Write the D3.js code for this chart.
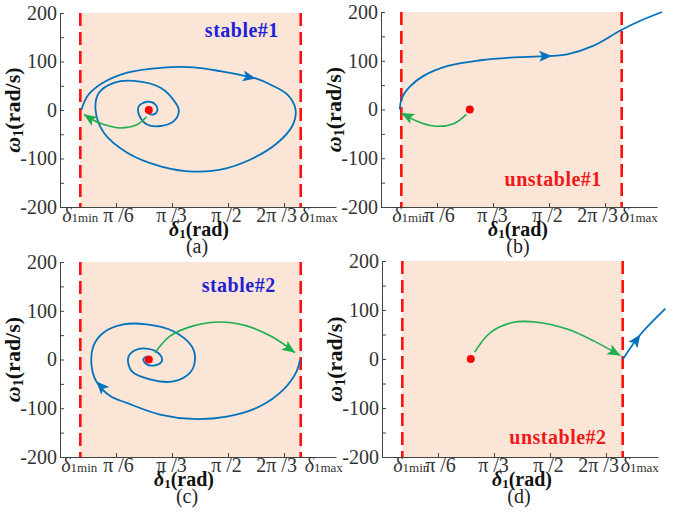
<!DOCTYPE html>
<html>
<head>
<meta charset="utf-8">
<script src="https://cdn.jsdelivr.net/npm/d3@7"></script>
<style>
body { margin: 0; background: #fff; }
text { font-family: "Liberation Serif", "Times New Roman", serif; }
</style>
</head>
<body>
<svg id="fig" width="673" height="512"></svg>
<script>
// values: delta in rad, omega in rad/s
var deltaMin = 0.19, deltaMax = 2.25, delta0 = 0.83;
var yTicks = [-200, -150, -100, -50, 0, 50, 100, 150, 200];
var xTicks = [Math.PI / 6, Math.PI / 3, Math.PI / 2, 2 * Math.PI / 3];
var xTickLabels = ["π /6", "π /3", "π /2", "2π /3"];
var captions = ["(a)", "(b)", "(c)", "(d)"];
var stateLabels = ["stable#1", "unstable#1", "stable#2", "unstable#2"];

var blueA = [[0.20,0],[0.254,28],[0.379,53],[0.628,77],[0.940,87],[1.248,88],[1.501,80],[1.83,65],[1.96,53],
  [2.124,32],[2.202,1],[2.171,-33],[2.031,-68],[1.781,-102],[1.501,-123],[1.248,-127],[0.940,-116],[0.628,-88],
  [0.410,-47],[0.332,1],[0.363,35],[0.503,56],[0.690,60],[0.940,46],[1.080,15],[1.111,-2],[1.064,-23],[0.940,-33],
  [0.815,-30],[0.737,-9],[0.737,8],[0.815,17],[0.893,11],[0.909,-2],[0.877,-9],[0.830,-7],[0.809,1],[0.84,0]];
var greenA = [[0.809,-14],[0.722,-30],[0.566,-37],[0.410,-30],[0.285,-18],[0.223,-9]];

var blueB = [[0.175,0],[0.196,24],[0.274,48],[0.398,69],[0.617,89],[0.928,101],[1.240,107],[1.60,110],[1.739,113],
  [1.988,131],[2.237,162],[2.424,182],[2.627,200]];
var greenB = [[0.798,-10],[0.679,-29],[0.492,-34],[0.337,-24],[0.19,-7]];

var blueC = [[2.244,0],[2.213,-24],[2.088,-62],[1.870,-96],[1.559,-117],[1.246,-122],[0.935,-113],[0.623,-89],
  [0.47,-75],[0.34,-45],[0.296,-14],[0.311,27],[0.405,55],[0.592,72],[0.810,72],[1.059,58],[1.231,27],[1.262,0],
  [1.216,-27],[1.059,-45],[0.841,-41],[0.670,-24],[0.638,4],[0.701,19],[0.825,22],[0.935,10],[0.951,-4],
  [0.888,-12],[0.810,-10],[0.779,0],[0.816,6],[0.837,0]];
var greenC = [[0.888,14],[1.028,48],[1.246,69],[1.496,77],[1.746,69],[1.995,45],[2.197,14]];

var blueD = [[2.253,0],[2.415,50],[2.649,103]];
var greenD = [[0.866,14],[1.013,54],[1.230,75],[1.449,75],[1.730,61],[1.978,37],[2.228,7]];

var blues = [blueA, blueB, blueC, blueD];
var greens = [greenA, greenB, greenC, greenD];
var blueArrowAt = [7, 7, 9, 1];
var statePos = [[1.70,150],[1.61,-157],[1.67,139],[1.645,-173]];

// layout of the four panels (pixels)
var panels = [
  {ox: 60,  top: 13,  bottom: 207, titleDx: 139, capDx: 137, minDx: 0,  maxDx: -1, stateColor: "#1f1fd6"},
  {ox: 381, top: 12,  bottom: 207, titleDx: 137, capDx: 137, minDx: 9,  maxDx: -2, stateColor: "#f01818"},
  {ox: 60,  top: 262, bottom: 457, titleDx: 124, capDx: 127, minDx: -1, maxDx: 4,  stateColor: "#1f1fd6"},
  {ox: 382, top: 261, bottom: 457, titleDx: 140, capDx: 137, minDx: 9,  maxDx: -2, stateColor: "#f01818"}
];
var tickLabelDx = [2, -1, -2, -8];

var axisColor = "#444", blueColor = "#0072bd", greenColor = "#1fae4f";
var svg = d3.select("#fig");

function drawArrow(g, p, q, color) {
  var a = Math.atan2(q[1] - p[1], q[0] - p[0]) * 180 / Math.PI;
  g.append("path")
    .attr("d", "M0,0L-13,-5.5L-10,0L-13,5.5Z")
    .attr("fill", color)
    .attr("transform", "translate(" + q[0] + "," + q[1] + ") rotate(" + a + ")");
}

panels.forEach(function(p, k) {
  var x = d3.scaleLinear().domain([0, 2.58]).range([p.ox, p.ox + 276]);
  var y = d3.scaleLinear().domain([-200, 200]).range([p.bottom, p.top]);
  var g = svg.append("g");

  // stable region
  g.append("rect")
    .attr("x", x(deltaMin)).attr("y", y(200))
    .attr("width", x(deltaMax) - x(deltaMin)).attr("height", y(-200) - y(200))
    .attr("fill", "#fbe5d6");

  // axes
  var yAxis = g.append("g").attr("transform", "translate(" + p.ox + ",0)")
    .call(d3.axisLeft(y).tickValues(yTicks).tickSizeInner(-4).tickSizeOuter(0).tickPadding(3)
      .tickFormat(function(d) { return d % 100 === 0 ? String(d) : ""; }));
  var xAxis = g.append("g").attr("transform", "translate(0," + p.bottom + ")")
    .call(d3.axisBottom(x).tickValues(xTicks).tickSizeInner(-4).tickSizeOuter(0).tickPadding(1)
      .tickFormat(function(d, i) { return xTickLabels[i]; }));
  xAxis.selectAll(".tick text").attr("dx", function(d, i) { return tickLabelDx[i]; });
  [yAxis, xAxis].forEach(function(ax) {
    ax.selectAll("path, line").attr("stroke", axisColor);
    ax.selectAll("text").attr("font-size", 20).attr("fill", "#333");
  });

  // delta_min / delta_max tick labels
  var tmin = g.append("text").attr("x", x(deltaMin) + p.minDx).attr("y", p.bottom + 15)
    .attr("text-anchor", "middle").attr("fill", "#333").attr("font-size", 20);
  tmin.append("tspan").attr("font-style", "italic").text("δ");
  tmin.append("tspan").attr("font-size", 13).text("1min");
  var tmax = g.append("text").attr("x", x(deltaMax) + p.maxDx).attr("y", p.bottom + 15)
    .attr("fill", "#333").attr("font-size", 20);
  tmax.append("tspan").attr("font-style", "italic").text("δ");
  tmax.append("tspan").attr("font-size", 13).text("1max");

  // dashed limits
  [deltaMin, deltaMax].forEach(function(d) {
    g.append("line")
      .attr("x1", x(d)).attr("x2", x(d)).attr("y1", y(200)).attr("y2", y(-200))
      .attr("stroke", "#ff1010").attr("stroke-width", 2.6).attr("stroke-dasharray", "13,6");
  });

  // axis titles and caption
  var xt = g.append("text").attr("x", p.ox + p.titleDx).attr("y", p.bottom + 29)
    .attr("text-anchor", "middle").attr("font-weight", "bold").attr("font-size", 20).attr("fill", "#111");
  xt.append("tspan").attr("font-style", "italic").text("δ");
  xt.append("tspan").attr("font-size", 13).attr("dy", 2).text("1");
  xt.append("tspan").attr("dy", -2).text("(rad)");

  var yc = (p.top + p.bottom) / 2;
  var yt = g.append("text").attr("transform", "translate(" + (p.ox - 40) + "," + yc + ") rotate(-90)")
    .attr("text-anchor", "middle").attr("font-weight", "bold").attr("font-size", 22).attr("fill", "#111");
  yt.append("tspan").attr("font-style", "italic").text("ω");
  yt.append("tspan").attr("font-size", 14).attr("dy", 3).text("1");
  yt.append("tspan").attr("dy", -3).text("(rad/s)");

  g.append("text").attr("x", p.ox + p.capDx).attr("y", p.bottom + 46)
    .attr("text-anchor", "middle").attr("font-size", 20).attr("fill", "#222").text(captions[k]);

  g.append("text").attr("x", x(statePos[k][0])).attr("y", y(statePos[k][1]))
    .attr("text-anchor", "middle").attr("font-weight", "bold").attr("font-size", 20)
    .attr("letter-spacing", 0.5).attr("fill", p.stateColor).text(stateLabels[k]);

  // trajectories
  var line = d3.line().x(function(d) { return x(d[0]); }).y(function(d) { return y(d[1]); })
    .curve(d3.curveCatmullRom.alpha(0.5));

  var blue = blues[k], green = greens[k];
  g.append("path").datum(blue).attr("d", line)
    .attr("fill", "none").attr("stroke", blueColor).attr("stroke-width", 1.8);
  var i = blueArrowAt[k];
  drawArrow(g, [x(blue[i - 1][0]), y(blue[i - 1][1])], [x(blue[i][0]), y(blue[i][1])], blueColor);

  g.append("path").datum(green).attr("d", line)
    .attr("fill", "none").attr("stroke", greenColor).attr("stroke-width", 1.6);
  var n = green.length;
  drawArrow(g, [x(green[n - 2][0]), y(green[n - 2][1])], [x(green[n - 1][0]), y(green[n - 1][1])], greenColor);

  g.append("circle").attr("cx", x(delta0)).attr("cy", y(0)).attr("r", 4).attr("fill", "#ff0000");
});
</script>
</body>
</html>
